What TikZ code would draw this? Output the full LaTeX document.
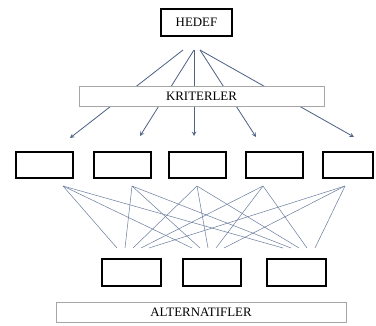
\documentclass[tikz,border=0pt]{standalone}
\usepackage{fontspec}
\setmainfont{Liberation Serif}
\definecolor{steel}{RGB}{78,98,132}
\definecolor{steellight}{RGB}{110,128,160}
\begin{document}
\begin{tikzpicture}[x=0.03cm, y=-0.03cm, >=stealth,
        box/.style={draw, line width=1.6pt, minimum width=1.72cm, minimum height=0.8cm, inner sep=0pt},
        band/.style={draw=gray!70, fill=white, minimum height=0.6cm, inner sep=0pt, font=\fontsize{11}{13}\selectfont},
        arrow/.style={draw=steel, line width=0.7pt},
        link/.style={draw=steellight, line width=0.45pt}]
        \useasboundingbox (0,0) rectangle (376,325);

        \node[box, minimum width=2.13cm, font=\fontsize{11}{13}\selectfont] (hedef) at (196.5,22.5) {HEDEF};

        \node[box] (c1) at (44.5,165) {};
        \node[box] (c2) at (122.5,165) {};
        \node[box] (c3) at (197.5,165) {};
        \node[box] (c4) at (274.5,165) {};
        \node[box, minimum width=1.5cm] (c5) at (348,165) {};

        \node[box, minimum width=1.75cm] (a1) at (131.5,272.5) {};
        \node[box, minimum width=1.75cm] (a2) at (212,272.5) {};
        \node[box, minimum width=1.75cm] (a3) at (296.5,272.5) {};

        % arrows from the goal down to the criteria
        \coordinate (hl) at (183,50);
        \coordinate (hm) at (194,50);
        \coordinate (hr) at (200,50);
        \coordinate (k1) at (70,138);
        \coordinate (k2) at (140,136);
        \coordinate (k3) at (194,136);
        \coordinate (k4) at (256,137);
        \coordinate (k5) at (354,137);
        \foreach \s/\k in {hl/k1, hm/k2, hm/k3, hr/k4, hr/k5}
            \draw[->, arrow] (\s) -- (\k);

        \node[band, minimum width=7.35cm] (kriter) at (201.5,96.5) {KRITERLER};

        % criteria to alternatives
        \foreach \i/\sx in {1/63, 2/132, 3/197, 4/263, 5/345}
            \coordinate (s\i) at (\sx,186);
        \foreach \a/\ax in {1/117, 2/192, 3/283}
            \foreach \i in {1,...,5} {
                \coordinate (e\a\i) at (\ax+8*\i-8,248);
                \draw[link] (s\i) -- (e\a\i);
            }

        \node[band, minimum width=8.7cm] (altern) at (201,312.5) {ALTERNATIFLER};
\end{tikzpicture}
\end{document}
